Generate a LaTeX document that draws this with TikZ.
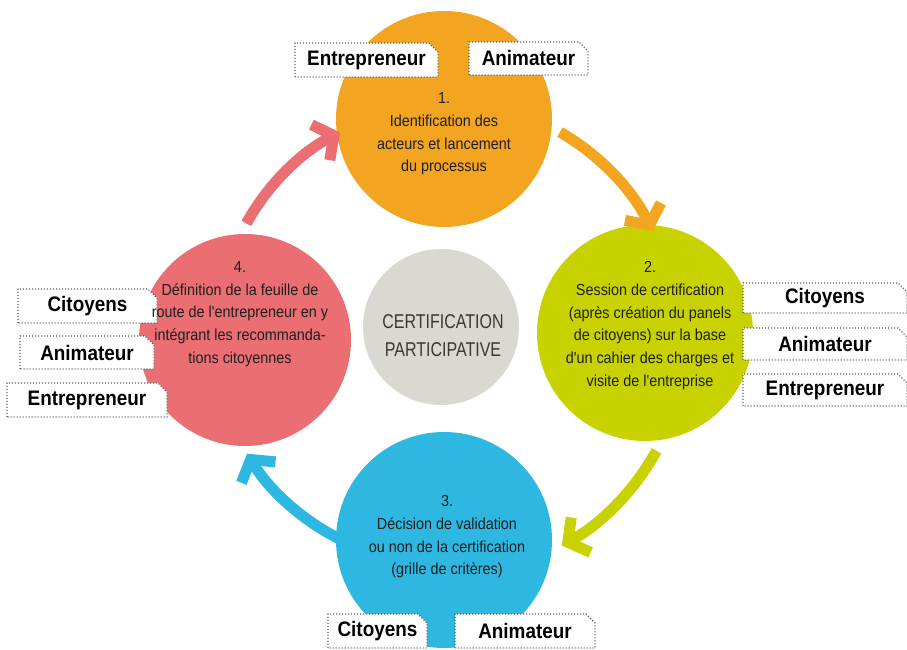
\documentclass[tikz,border=0pt]{standalone}
\usepackage{fontspec}
\usetikzlibrary{arrows.meta,calc}
\newfontfamily\cnd[FakeStretch=0.9]{Liberation Sans}
\newfontfamily\cndc[FakeStretch=0.8]{Liberation Sans}
\definecolor{corange}{HTML}{F3A521}
\definecolor{cgreen}{HTML}{C8D200}
\definecolor{cblue}{HTML}{2DB7E1}
\definecolor{cred}{HTML}{EB6E72}
\definecolor{cgray}{HTML}{DAD9D1}
\definecolor{ctext}{HTML}{1E1E1E}
\newcommand\lbl[6]{%
  \path[lblbox] (#2,#3) -- (#2,#5) -- ({#4-9},#5) -- (#4,{#5-9}) -- (#4,#3) -- cycle;
  \node[lbltext] (#1) at ({(#2+#4)/2},{(#3+#5)/2}) {#6};}
\begin{document}
\begin{tikzpicture}[x=1pt,y=1pt,
  bigcirc/.style={circle,inner sep=0pt,minimum size=216pt},
  ctxt/.style={align=center,text=ctext,inner sep=0pt,font=\cnd\fontsize{16}{22.7}\selectfont},
  lblbox/.style={fill=white,draw=black!65,line width=1.1pt,dash pattern=on 1.1pt off 1.9pt},
  lbltext/.style={inner sep=0pt,font=\cnd\bfseries\fontsize{21}{24}\selectfont,text=black},
  arr/.style={line width=11pt,-{Straight Barb[length=15pt,width=40pt,line width=11pt]}}]
\useasboundingbox (0,0) rectangle (907,650);
\coordinate (C) at (444,317);
% circles
\node[bigcirc,fill=corange] (c1) at (444,531) {};
\node[bigcirc,fill=cgreen] (c2) at (645,317) {};
\node[bigcirc,fill=cblue] (c3) at (444,110) {};
\node[bigcirc,fill=cred,minimum size=212pt] (c4) at (245,310) {};
\node[circle,inner sep=0pt,minimum size=156pt,fill=cgray] (c0) at (441,323) {};
% arrows
\coordinate (a1s) at ($(C)+(60:232)$);
\coordinate (a2s) at ($(C)+(-29:243)$);
\coordinate (a3s) at ($(C)+(-116:231)$);
\coordinate (a4s) at ($(C)+(151:226)$);
\draw[arr,corange] (a1s) arc[start angle=60,end angle=26,radius=232];
\draw[arr,cgreen] (a2s) arc[start angle=-29,end angle=-61,radius=243];
\draw[arr,cblue] (a3s) arc[start angle=-116,end angle=-148.5,radius=231];
\draw[arr,cred] (a4s) arc[start angle=151,end angle=117.4,radius=226];
% labels
\lbl{l1}{295}{573}{438}{607}{Entrepreneur}
\lbl{l2}{469}{575}{588}{608}{Animateur}
\lbl{l3}{743}{337}{907}{367}{Citoyens}
\lbl{l4}{743}{290}{907}{322}{Animateur}
\lbl{l5}{743}{244}{907}{276}{Entrepreneur}
\lbl{l6}{18}{327}{157}{361}{Citoyens}
\lbl{l7}{20}{281}{154}{314}{Animateur}
\lbl{l8}{7}{233}{167}{267}{Entrepreneur}
\lbl{l9}{328}{2}{427}{36}{Citoyens}
\lbl{l10}{455}{2}{595}{36}{Animateur}
% circle texts
\node[ctxt] (t1) at (444,516) {1.\\Identification des\\acteurs et lancement\\du processus};
\node[ctxt] (t2) at (650,324.5) {2.\\Session de certification\\(après création du panels\\de citoyens) sur la base\\d'un cahier des charges et\\visite de l'entreprise};
\node[ctxt] (t3) at (447,113) {3.\\Décision de validation\\ou non de la certification\\(grille de critères)};
\node[ctxt] (t4) at (240,336) {4.\\Définition de la feuille de\\route de l'entrepreneur en y\\intégrant les recommanda-\\tions citoyennes};
\node[align=center,inner sep=0pt,text=black!78,font=\cndc\fontsize{20}{28}\selectfont] (t0) at (443,314) {CERTIFICATION\\PARTICIPATIVE};
\end{tikzpicture}
\end{document}
